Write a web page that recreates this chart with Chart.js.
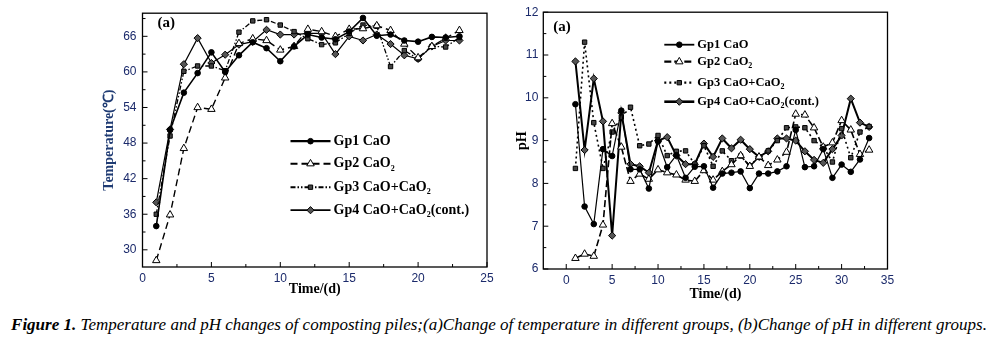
<!DOCTYPE html>
<html>
<head>
<meta charset="utf-8">
<script src="https://cdn.jsdelivr.net/npm/chart.js@4.4.0/dist/chart.umd.min.js"></script>
<style>
  body { margin: 0; background: #fff; width: 998px; height: 340px; position: relative; overflow: hidden; }
  #tempChart { position: absolute; left: 0; top: 0; }
  #phChart { position: absolute; left: 500px; top: 0; }
  #caption { position: absolute; left: 0; top: 315px; width: 998px; text-align: center;
    font: italic 17px "Liberation Serif", serif; color: #000; white-space: nowrap; }
</style>
</head>
<body>
<canvas id="tempChart" width="500" height="305"></canvas>
<canvas id="phChart" width="498" height="305"></canvas>
<div id="caption"><b>Figure 1.</b> Temperature and pH changes of composting piles;(a)Change of temperature in different groups, (b)Change of pH in different groups.</div>
<script>
// group names (CaO2 gets a subscript 2 when drawn)
var groupNames = ["Gp1 CaO", "Gp2 CaO2", "Gp3 CaO+CaO2", "Gp4 CaO+CaO2(cont.)"];

// temperature, days 1..23
var tempDays = [1, 2, 3, 4, 5, 6, 7, 8, 9, 10, 11, 12, 13, 14, 15, 16, 17, 18, 19, 20, 21, 22, 23];
var tempGp1 = [34, 50.2, 56.5, 59.8, 63.3, 60, 62.8, 65, 64, 61.8, 64.3, 66.3, 65.8, 65.5, 66.8, 69.1, 66.1, 66.3, 65.3, 65.1, 65.9, 65.8, 66];
var tempGp2 = [28.2, 35.9, 47.1, 54, 53.7, 59, 64.8, 65.6, 65.3, 63.7, 64.3, 67.2, 66.8, 66, 67.2, 67.3, 67.8, 67, 64.7, 62.4, 64.3, 65.7, 67];
var tempGp3 = [36, 49.2, 60.1, 61, 61, 60.2, 66.7, 68.6, 68.8, 67.9, 66.8, 65.6, 64.6, 64.9, 66.5, 67.9, 67.7, 60.9, 63.6, 62.2, 64.3, 64.2, 65.8];
var tempGp4 = [38, 50.3, 61.3, 65.7, 61.5, 62.9, 64.6, 65.1, 67.1, 66.3, 66.3, 66.5, 66.5, 63, 66, 65.3, 66.3, 64.7, 62.8, 62.2, 64.3, 65.3, 65.3];
var tempXTicks = [0, 5, 10, 15, 20, 25];
var tempYTicks = [30, 36, 42, 48, 54, 60, 66];

// pH, days 1..33
var phDays = [1, 2, 3, 4, 5, 6, 7, 8, 9, 10, 11, 12, 13, 14, 15, 16, 17, 18, 19, 20, 21, 22, 23, 24, 25, 26, 27, 28, 29, 30, 31, 32, 33];
var phGp1 = [9.85, 7.46, 7.05, 8.8, 8.64, 9.7, 8.33, 8.33, 7.88, 8.98, 8.38, 8.66, 8.13, 8.39, 8.4, 7.9, 8.23, 8.25, 8.28, 7.89, 8.23, 8.23, 8.28, 8.4, 9.25, 8.38, 8.4, 8.8, 8.13, 8.44, 8.27, 8.56, 9.06];
var phGp2 = [6.25, 6.35, 6.3, 7.03, 9.4, 8.85, 8.05, 8.22, 8.1, 8.32, 8.25, 8.2, 8.08, 8.05, 8.3, 8.08, 8.28, 8.44, 8.65, 8.4, 8.62, 8.42, 8.55, 8.73, 9.62, 9.6, 9.3, 8.85, 8.95, 9.47, 9.25, 8.68, 8.78];
var phGp3 = [8.35, 11.3, 9.42, 8.35, 9.2, 9.55, 9.78, 8.88, 8.92, 9.12, 8.65, 8.75, 8.76, 8.45, 8.88, 8.4, 8.76, 8.53, 8.64, 8.41, 8.62, 8.76, 9.0, 9.3, 9.32, 9.3, 9.0, 8.85, 8.5, 9.28, 8.6, 9.2, 9.33];
var phGp4 = [10.85, 8.78, 10.45, 9.45, 6.78, 9.65, 8.45, 8.4, 8.25, 9.0, 9.08, 8.65, 8.45, 8.45, 8.93, 8.62, 9.05, 8.82, 9.02, 8.8, 8.62, 8.75, 9.05, 9.05, 9.0, 8.75, 8.55, 8.48, 8.8, 9.12, 9.98, 9.42, 9.32];
var phXTicks = [0, 5, 10, 15, 20, 25, 30, 35];
var phYTicks = [6, 7, 8, 9, 10, 11, 12];

function pairs(xs, ys) {
  return xs.map(function (x, i) { return { x: x, y: ys[i] }; });
}

// draws "CaO2" with a lowered small 2
function drawName(ctx, name, x, y, size) {
  var parts = name.split("CaO2");
  ctx.textBaseline = "middle";
  ctx.textAlign = "left";
  for (var i = 0; i < parts.length; i++) {
    var seg = parts[i];
    ctx.font = "bold " + size + "px 'Liberation Serif'";
    ctx.fillText(seg, x, y);
    x += ctx.measureText(seg).width;
    if (i < parts.length - 1) {
      ctx.fillText("CaO", x, y);
      x += ctx.measureText("CaO").width;
      ctx.font = "bold " + Math.round(size * 0.6) + "px 'Liberation Serif'";
      ctx.fillText("2", x, y + size * 0.35);
      x += ctx.measureText("2").width;
    }
  }
}

function drawMarker(ctx, ds, x, y) {
  var r = ds.pointRadius;
  ctx.save();
  ctx.setLineDash([]);
  ctx.lineWidth = 1;
  ctx.strokeStyle = "#000";
  ctx.fillStyle = ds.pointBackgroundColor;
  ctx.beginPath();
  if (ds.pointStyle === "circle") {
    ctx.arc(x, y, r, 0, Math.PI * 2);
  } else if (ds.pointStyle === "triangle") {
    ctx.moveTo(x, y - r);
    ctx.lineTo(x + r * 0.87, y + r * 0.5);
    ctx.lineTo(x - r * 0.87, y + r * 0.5);
    ctx.closePath();
  } else if (ds.pointStyle === "rect") {
    ctx.rect(x - r * 0.7, y - r * 0.7, r * 1.4, r * 1.4);
  } else {
    ctx.moveTo(x, y - r);
    ctx.lineTo(x + r, y);
    ctx.lineTo(x, y + r);
    ctx.lineTo(x - r, y);
    ctx.closePath();
  }
  ctx.fill();
  ctx.stroke();
  ctx.restore();
}

// frame, inward ticks, panel tag and legend
var framePlugin = {
  id: "frame",
  afterDraw: function (chart, args, o) {
    var ctx = chart.ctx, a = chart.chartArea;
    var xs = chart.scales.x, ys = chart.scales.y;
    ctx.save();
    ctx.strokeStyle = "#000";
    ctx.lineWidth = 1.3;
    ctx.setLineDash([]);
    ctx.strokeRect(a.left, a.top, a.right - a.left, a.bottom - a.top);
    ctx.lineWidth = 1;
    ctx.beginPath();
    o.xTicks.forEach(function (v, i) {
      var px = xs.getPixelForValue(v);
      ctx.moveTo(px, a.bottom); ctx.lineTo(px, a.bottom - 5);
      if (i < o.xTicks.length - 1) {
        var mx = xs.getPixelForValue((v + o.xTicks[i + 1]) / 2);
        ctx.moveTo(mx, a.bottom); ctx.lineTo(mx, a.bottom - 3);
      }
    });
    o.yTicks.forEach(function (v, i) {
      var py = ys.getPixelForValue(v);
      ctx.moveTo(a.left, py); ctx.lineTo(a.left + 5, py);
      var step = o.yTicks[1] - o.yTicks[0];
      var my = ys.getPixelForValue(v + step / 2);
      if (my > a.top) { ctx.moveTo(a.left, my); ctx.lineTo(a.left + 3, my); }
      var my2 = ys.getPixelForValue(v - step / 2);
      if (i === 0 && my2 < a.bottom) { ctx.moveTo(a.left, my2); ctx.lineTo(a.left + 3, my2); }
    });
    ctx.stroke();

    ctx.fillStyle = "#000";
    ctx.font = "bold 15px 'Liberation Serif'";
    ctx.textBaseline = "middle";
    ctx.fillText("(a)", a.left + o.tag[0], a.top + o.tag[1]);

    chart.data.datasets.forEach(function (ds, i) {
      var y = a.top + o.legend.top + i * o.legend.gap[i];
      var x0 = a.left + o.legend.left;
      ctx.save();
      ctx.strokeStyle = "#000";
      ctx.lineWidth = ds.borderWidth + 0.6;
      ctx.setLineDash(ds.borderDash || []);
      ctx.beginPath();
      ctx.moveTo(x0, y); ctx.lineTo(x0 + o.legend.len, y);
      ctx.stroke();
      ctx.restore();
      drawMarker(ctx, ds, x0 + o.legend.len / 2, y);
      ctx.fillStyle = "#000";
      drawName(ctx, ds.label, x0 + o.legend.len + 3, y, o.legend.size);
    });
    ctx.restore();
  }
};

function makeSets(xs, g1, g2, g3, g4, dashes, widths) {
  var styles = [
    { pointStyle: "circle", pointRadius: 2.8, pointBackgroundColor: "#000" },
    { pointStyle: "triangle", pointRadius: 4.3, pointBackgroundColor: "#fff" },
    { pointStyle: "rect", pointRadius: 3.1, pointBackgroundColor: "#444" },
    { pointStyle: "rectRot", pointRadius: 3.6, pointBackgroundColor: "#555" }
  ];
  return [g1, g2, g3, g4].map(function (g, i) {
    return Object.assign({
      label: groupNames[i],
      data: pairs(xs, g),
      showLine: true,
      borderColor: "#000",
      borderWidth: widths[i],
      borderDash: dashes[i],
      pointBorderColor: "#000",
      pointBorderWidth: 1,
      tension: 0
    }, styles[i]);
  });
}

function axisOptions(min, max, ticks, title, titleColor, tickColor, fitSize, isY, pad, titlePadTop) {
  return {
    type: "linear",
    min: min,
    max: max,
    afterBuildTicks: function (s) { s.ticks = ticks.map(function (v) { return { value: v }; }); },
    afterFit: function (s) { if (isY) { s.width = fitSize; } else { s.height = fitSize; } },
    grid: { display: false, drawTicks: false },
    border: { display: false },
    ticks: { color: tickColor, padding: pad, font: { family: "'Liberation Sans'", size: 12 }, maxRotation: 0, autoSkip: false },
    title: { display: true, text: title, color: titleColor, padding: { top: titlePadTop, bottom: 2 },
      font: { family: "'Liberation Serif'", size: 14, weight: "bold" } }
  };
}

Chart.defaults.animation = false;

new Chart(document.getElementById("tempChart"), {
  type: "scatter",
  data: { datasets: makeSets(tempDays, tempGp1, tempGp2, tempGp3, tempGp4,
    [[], [7, 4], [5, 2, 1.5, 2, 1.5, 2], []], [1.6, 1.4, 1.3, 1.2]) },
  options: {
    responsive: false,
    layout: { padding: { left: 99, right: 13, top: 10.7, bottom: 5 } },
    plugins: {
      legend: { display: false },
      tooltip: { enabled: false },
      frame: { xTicks: tempXTicks, yTicks: tempYTicks, tag: [15, 10],
        legend: { left: 148, top: 128, len: 40, gap: [23, 22.5, 23, 23], size: 14 } }
    },
    scales: {
      x: axisOptions(0, 25, tempXTicks, "Time/(d)", "#000", "#1b2a6b", 33, false, 4, 3),
      y: axisOptions(27.1, 69.9, tempYTicks, "Temperature(\u2103)", "#1f3b73", "#1b2a6b", 43.5, true, 6, 2)
    }
  },
  plugins: [framePlugin]
});

new Chart(document.getElementById("phChart"), {
  type: "scatter",
  data: { datasets: makeSets(phDays, phGp1, phGp2, phGp3, phGp4,
    [[], [7, 3], [2, 3], []], [1.2, 1.6, 1.6, 2]) },
  options: {
    responsive: false,
    layout: { padding: { left: 12, right: 110.5, top: 10.7, bottom: 0 } },
    plugins: {
      legend: { display: false },
      tooltip: { enabled: false },
      frame: { xTicks: phXTicks, yTicks: phYTicks, tag: [10, 15],
        legend: { left: 121, top: 32.5, len: 30, gap: [17, 17, 19, 19], size: 12.5 } }
    },
    scales: {
      x: axisOptions(-2.5, 35, phXTicks, "Time/(d)", "#000", "#1b2a6b", 36, false, 4, 5),
      y: axisOptions(6, 12, phYTicks, "pH", "#000", "#1b2a6b", 31.3, true, 5, 2)
    }
  },
  plugins: [framePlugin]
});
</script>
</body>
</html>
